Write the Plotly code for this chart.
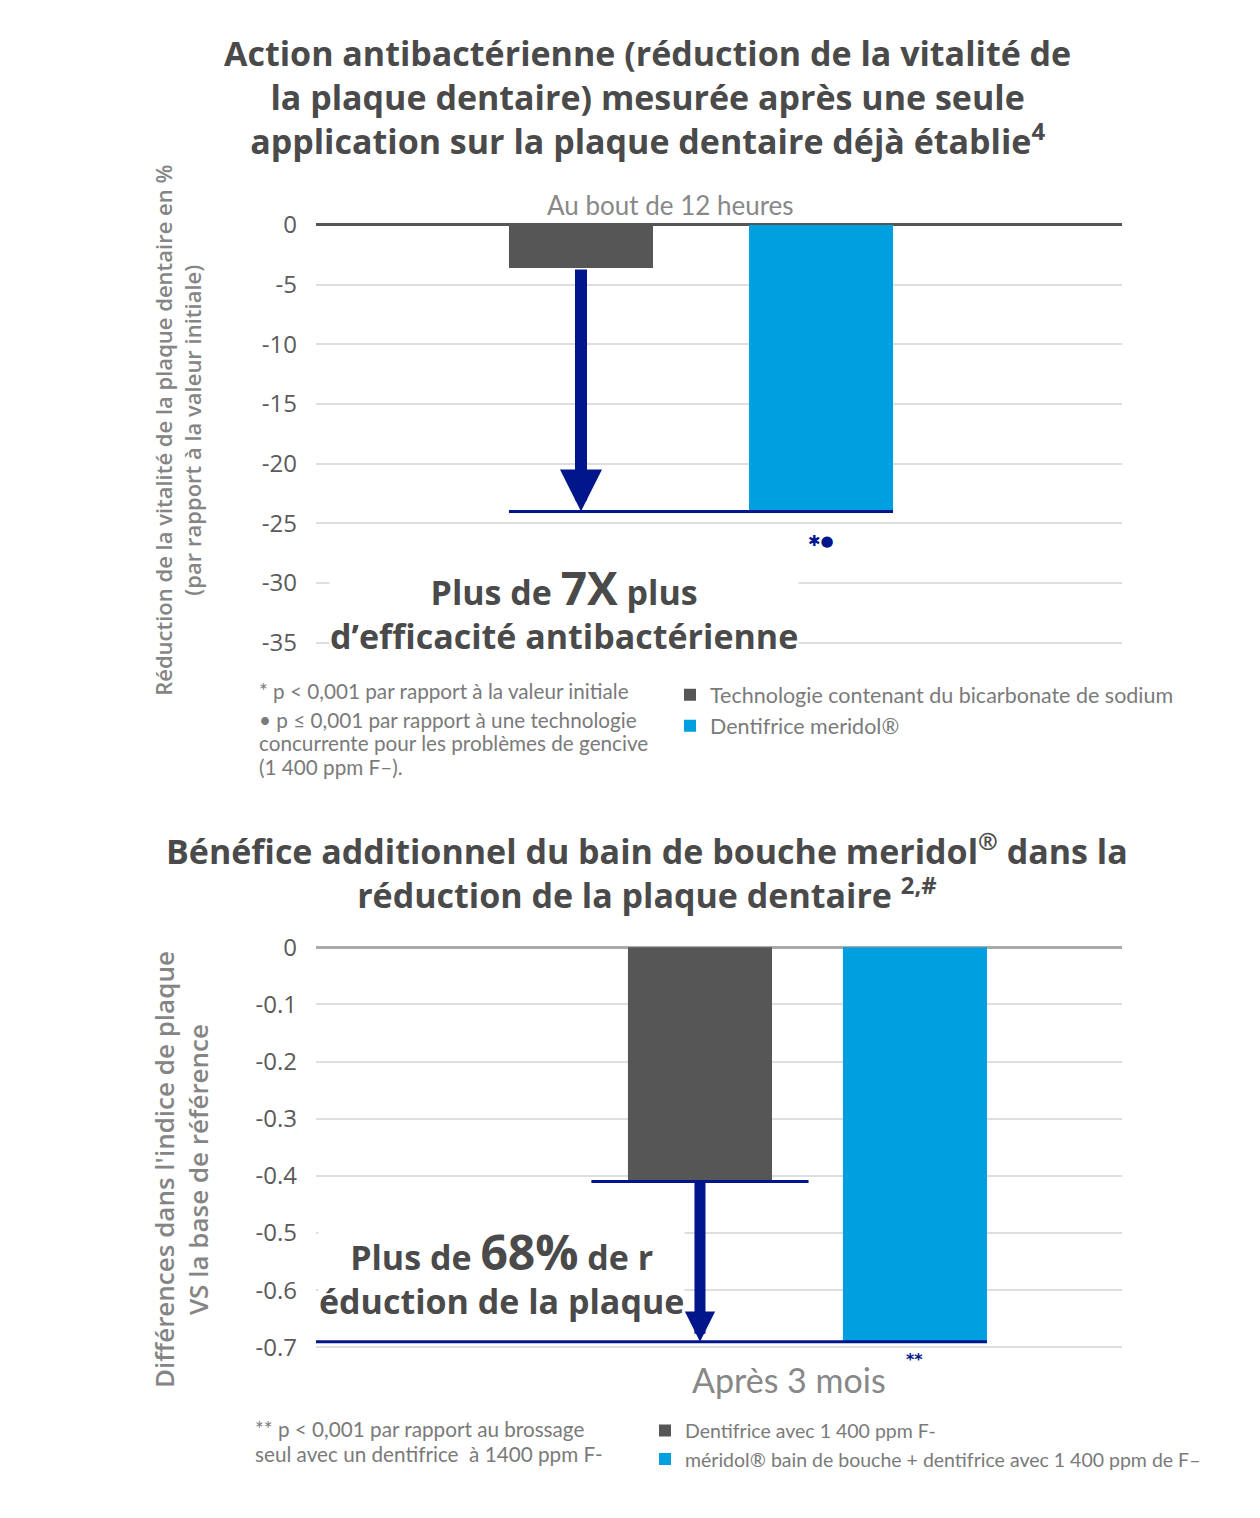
import plotly.graph_objects as go

W, H = 1260, 1518

# top chart: antibacterial action after 12 hours
top_names = ["Technologie contenant du bicarbonate de sodium", "Dentifrice meridol®"]
top_pos = [0, 1]
top_values = [-3.6, -24.0]
top_ticks = [0, -5, -10, -15, -20, -25, -30, -35]
top_tick_labels = ["0", "-5", "-10", "-15", "-20", "-25", "-30", "-35"]

# bottom chart: plaque index difference after 3 months
bottom_names = [
    "Dentifrice avec 1 400 ppm F-",
    "méridol® bain de bouche + dentifrice avec 1 400 ppm de F–",
]
bottom_pos = [0, 1]
bottom_values = [-0.41, -0.69]
bottom_ticks = [0, -0.1, -0.2, -0.3, -0.4, -0.5, -0.6, -0.7]
bottom_tick_labels = ["0", "-0.1", "-0.2", "-0.3", "-0.4", "-0.5", "-0.6", "-0.7"]

bar_colors = ["#565656", "#009FDF"]
NAVY = "#00168A"
TITLE_COLOR = "#4a4a4a"
SOFT_GREY = "#7a7a7a"


def px_x(p):
    return p / W


def px_y(p):
    return 1 - p / H


top_width = 0.6
bottom_width = 0.67
top_xrange = [-1.104, 2.254]
bottom_xrange = [-1.786, 1.963]

fig = go.Figure()

for i in range(2):
    fig.add_trace(
        go.Bar(
            x=[top_pos[i]],
            y=[top_values[i]],
            width=top_width,
            name=top_names[i],
            marker=dict(color=bar_colors[i], line_width=0),
            xaxis="x",
            yaxis="y",
            legend="legend",
        )
    )
for i in range(2):
    fig.add_trace(
        go.Bar(
            x=[bottom_pos[i]],
            y=[bottom_values[i]],
            width=bottom_width,
            name=bottom_names[i],
            marker=dict(color=bar_colors[i], line_width=0),
            xaxis="x2",
            yaxis="y2",
            legend="legend2",
        )
    )

# navy reference lines
fig.add_trace(
    go.Scatter(
        x=[top_pos[0] - top_width / 2, top_pos[1] + top_width / 2],
        y=[top_values[1]] * 2,
        mode="lines",
        line=dict(color=NAVY, width=3),
        showlegend=False,
        xaxis="x",
        yaxis="y",
    )
)
overhang = 0.17
fig.add_trace(
    go.Scatter(
        x=[bottom_pos[0] - bottom_width / 2 - overhang, bottom_pos[0] + bottom_width / 2 + overhang],
        y=[bottom_values[0]] * 2,
        mode="lines",
        line=dict(color=NAVY, width=3),
        showlegend=False,
        xaxis="x2",
        yaxis="y2",
    )
)
fig.add_trace(
    go.Scatter(
        x=[bottom_xrange[0], bottom_pos[1] + bottom_width / 2],
        y=[bottom_values[1]] * 2,
        mode="lines",
        line=dict(color=NAVY, width=3),
        showlegend=False,
        xaxis="x2",
        yaxis="y2",
    )
)

axis_font = dict(family="Open Sans", size=24, color="#5a5a5a")
fig.update_layout(
    width=W,
    height=H,
    margin=dict(l=0, r=0, t=0, b=0),
    plot_bgcolor="white",
    paper_bgcolor="white",
    barmode="overlay",
    xaxis=dict(
        domain=[px_x(316), px_x(1122)],
        range=top_xrange,
        showgrid=False,
        zeroline=False,
        showticklabels=False,
    ),
    yaxis=dict(
        domain=[px_y(646), px_y(210)],
        range=[-35.5, 0.5],
        tickvals=top_ticks,
        ticktext=top_tick_labels,
        tickfont=axis_font,
        ticklabelstandoff=18,
        gridcolor="#dedede",
        gridwidth=2,
        zeroline=True,
        zerolinecolor="#555555",
        zerolinewidth=3,
        showline=False,
    ),
    xaxis2=dict(
        domain=[px_x(316), px_x(1122)],
        range=bottom_xrange,
        anchor="y2",
        showgrid=False,
        zeroline=False,
        showticklabels=False,
    ),
    yaxis2=dict(
        domain=[px_y(1360.8), px_y(943.2)],
        range=[-0.71, 0.01],
        anchor="x2",
        tickvals=bottom_ticks,
        ticktext=bottom_tick_labels,
        tickfont=axis_font,
        ticklabelstandoff=18,
        gridcolor="#dedede",
        gridwidth=2,
        zeroline=True,
        zerolinecolor="#aaaaaa",
        zerolinewidth=3,
        showline=False,
    ),
    legend=dict(
        x=px_x(670),
        y=px_y(672),
        xanchor="left",
        yanchor="top",
        font=dict(family="Lato", size=21.5, color=SOFT_GREY),
        bgcolor="rgba(0,0,0,0)",
        traceorder="normal",
    ),
    legend2=dict(
        x=px_x(645),
        y=px_y(1420),
        xanchor="left",
        yanchor="top",
        font=dict(family="Lato", size=19.5, color=SOFT_GREY),
        bgcolor="rgba(0,0,0,0)",
        traceorder="normal",
    ),
)

title_font = dict(family="Open Sans", size=34, color=TITLE_COLOR, weight="bold")
note_font = dict(family="Open Sans", size=34, color=TITLE_COLOR, weight="bold")
foot_font = dict(family="Lato", size=20.7, color=SOFT_GREY)

annotations = [
    dict(
        text="Action antibactérienne (réduction de la vitalité de<br>"
        "la plaque dentaire) mesurée après une seule<br>"
        "application sur la plaque dentaire déjà établie<sup>4</sup>",
        x=px_x(648), y=px_y(86), font=title_font,
    ),
    dict(
        text="Bénéfice additionnel du bain de bouche meridol<sup>®</sup> dans la<br>"
        "réduction de la plaque dentaire <sup>2,#</sup>",
        x=px_x(647), y=px_y(872), font=title_font,
    ),
    dict(
        text="Réduction de la vitalité de la plaque dentaire en %<br>(par rapport à la valeur initiale)",
        x=px_x(178), y=px_y(425), textangle=-90,
        font=dict(family="Open Sans", size=22, color="#858585", weight=600),
    ),
    dict(
        text="Différences dans l'indice de plaque<br>VS la base de référence",
        x=px_x(181), y=px_y(1175), textangle=-90,
        font=dict(family="Open Sans", size=26, color="#858585", weight=600),
    ),
    dict(
        text="Au bout de 12 heures",
        x=px_x(670), y=px_y(196),
        font=dict(family="Lato", size=26, color="#888888"),
    ),
    dict(
        text="Après 3 mois",
        x=px_x(789), y=px_y(1388),
        font=dict(family="Lato", size=34, color="#888888"),
    ),
    dict(
        text="Plus de <span style='font-size:46px'>7X</span> plus<br>d’efficacité antibactérienne",
        x=px_x(564), y=px_y(604), bgcolor="white", borderpad=0,
        font=note_font,
    ),
    dict(
        text="Plus de <span style='font-size:48px'>68%</span> de r<br>éduction de la plaque",
        x=px_x(502), y=px_y(1278), bgcolor="white", borderpad=0,
        font=note_font,
    ),
]

# footnotes, one line at a time
top_foot_lines = [
    "* p &lt; 0,001 par rapport à la valeur initiale",
    "• p ≤ 0,001 par rapport à une technologie",
    "concurrente pour les problèmes de gencive",
    "(1 400 ppm F–).",
]
for line, y in zip(top_foot_lines, [689, 718, 742, 766]):
    annotations.append(dict(text=line, x=px_x(257), y=px_y(y), xanchor="left", font=foot_font))

bottom_foot_lines = [
    "** p &lt; 0,001 par rapport au brossage",
    "seul avec un dentifrice  à 1400 ppm F-",
]
for line, y in zip(bottom_foot_lines, [1438, 1463]):
    annotations.append(dict(text=line, x=px_x(253), y=px_y(y), xanchor="left", font=foot_font))

for a in annotations:
    a.setdefault("xref", "paper")
    a.setdefault("yref", "paper")
    a.setdefault("xanchor", "center")
    a.setdefault("yanchor", "middle")
    a.setdefault("showarrow", False)
    fig.add_annotation(**a)

# significance marks under the meridol bars
fig.add_annotation(
    text="✱●", x=top_pos[1], y=top_values[1], xref="x", yref="y",
    xanchor="center", yanchor="top", yshift=-19, showarrow=False,
    font=dict(family="DejaVu Sans", size=15, color=NAVY),
)
fig.add_annotation(
    text="<b>**</b>", x=bottom_pos[1], y=bottom_values[1], xref="x2", yref="y2",
    xanchor="center", yanchor="top", yshift=-6, showarrow=False,
    font=dict(family="DejaVu Sans", size=16, color=NAVY),
)

# navy arrows from the first bar down to the meridol level
fig.add_annotation(
    x=top_pos[0], y=top_values[1], ax=top_pos[0], ay=top_values[0],
    xref="x", yref="y", axref="x", ayref="y", text="",
    showarrow=True, arrowhead=2, arrowsize=0.7, arrowwidth=12, arrowcolor=NAVY,
)
fig.add_annotation(
    x=bottom_pos[0], y=bottom_values[1], ax=bottom_pos[0], ay=bottom_values[0],
    xref="x2", yref="y2", axref="x2", ayref="y2", text="",
    showarrow=True, arrowhead=2, arrowsize=0.55, arrowwidth=11, arrowcolor=NAVY,
)

# the page's default body margin would push the 1260x1518 figure off the window
fig.write_html(
    "out.html",
    config={"displayModeBar": False},
    post_script="document.body.style.margin = '0';",
)
